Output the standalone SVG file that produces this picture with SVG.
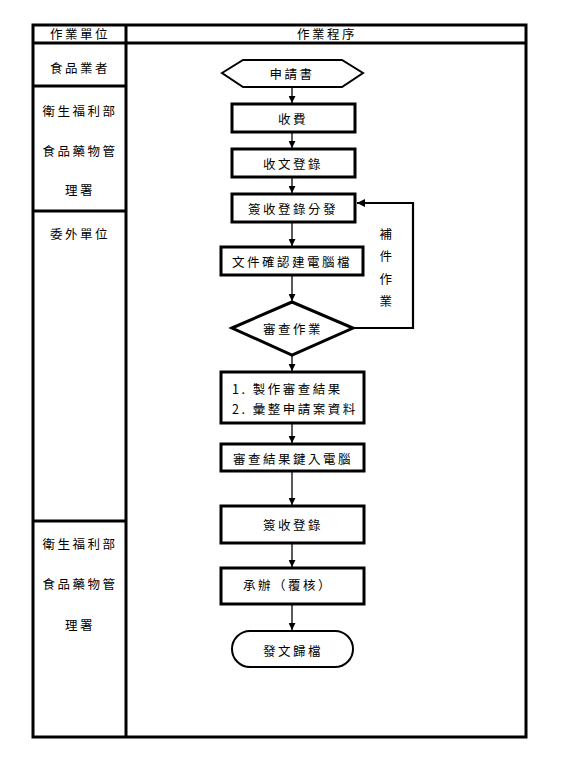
<svg xmlns="http://www.w3.org/2000/svg" width="563" height="765" viewBox="0 0 563 765">
<style>
text{font-family:"Noto Sans CJK TC","Noto Sans CJK SC",sans-serif;font-size:12.5px;fill:#000;letter-spacing:2.5px;text-anchor:middle;dominant-baseline:central}
.lane{fill:none;stroke:#000;stroke-width:3}
.box{fill:#fff;stroke:#000;stroke-width:3}
.thin{fill:#fff;stroke:#000;stroke-width:2}
.conn{fill:none;stroke:#000;stroke-width:1.3}
</style>
<defs>
<marker id="ah" viewBox="0 0 10 10" refX="10" refY="5" markerWidth="7" markerHeight="7" markerUnits="userSpaceOnUse" orient="auto"><path d="M0,0L10,5L0,10z" fill="#000"/></marker>
<marker id="ah2" viewBox="0 0 10 10" refX="10" refY="5" markerWidth="8" markerHeight="8" markerUnits="userSpaceOnUse" orient="auto"><path d="M0,0L10,5L0,10z" fill="#000"/></marker>
</defs>
<rect width="563" height="765" fill="#fff"/>
<g id="table">
<rect class="lane" x="33" y="25" width="493" height="712"/>
<line class="lane" x1="33" y1="43" x2="526" y2="43"/>
<line class="lane" x1="126" y1="25" x2="126" y2="737"/>
<line class="lane" x1="33" y1="86" x2="126" y2="86"/>
<line class="lane" x1="33" y1="211" x2="126" y2="211"/>
<line class="lane" x1="33" y1="521" x2="126" y2="521"/>
<text x="80" y="33">作業單位</text>
<text x="327" y="33">作業程序</text>
<text x="80" y="67">食品業者</text>
<text x="80" y="110">衛生福利部</text>
<text x="80" y="150">食品藥物管</text>
<text x="80" y="189">理署</text>
<text x="80" y="233">委外單位</text>
<text x="80" y="543">衛生福利部</text>
<text x="80" y="583">食品藥物管</text>
<text x="80" y="624">理署</text>
</g>
<g id="connectors">
<line class="conn" x1="292" y1="87" x2="292" y2="103" marker-end="url(#ah)"/>
<line class="conn" x1="292" y1="132" x2="292" y2="148" marker-end="url(#ah)"/>
<line class="conn" x1="292" y1="177" x2="292" y2="193" marker-end="url(#ah)"/>
<line class="conn" x1="292" y1="222" x2="292" y2="246" marker-end="url(#ah)"/>
<line class="conn" x1="292" y1="275" x2="292" y2="301" marker-end="url(#ah)"/>
<line class="conn" x1="292" y1="355" x2="292" y2="371" marker-end="url(#ah)"/>
<line class="conn" x1="292" y1="423" x2="292" y2="443" marker-end="url(#ah)"/>
<line class="conn" x1="292" y1="471" x2="292" y2="505" marker-end="url(#ah)"/>
<line class="conn" x1="292" y1="543" x2="292" y2="567" marker-end="url(#ah)"/>
<line class="conn" x1="292" y1="604" x2="292" y2="630" marker-end="url(#ah)"/>
<polyline fill="none" stroke="#000" stroke-width="2.2" points="353,328 413,328 413,203 357,203" marker-end="url(#ah2)"/>
<text x="387" y="233">補</text>
<text x="387" y="255">件</text>
<text x="387" y="278">作</text>
<text x="387" y="300">業</text>
</g>
<g id="n1"><polygon class="thin" points="222,73 243,60 342,60 363,73 342,87 243,87"/><text x="292" y="73">申請書</text></g>
<g id="n2"><rect class="box" x="232" y="104" width="123" height="28"/><text x="293" y="118">收費</text></g>
<g id="n3"><rect class="box" x="232" y="149" width="123" height="28"/><text x="293" y="163">收文登錄</text></g>
<g id="n4"><rect class="box" x="232" y="194" width="123" height="28"/><text x="293" y="208">簽收登錄分發</text></g>
<g id="n5"><rect class="box" x="221" y="247" width="142" height="28"/><text x="292" y="261">文件確認建電腦檔</text></g>
<g id="n6"><polygon class="box" points="232,328 292,302 353,328 292,355"/><text x="293" y="328">審查作業</text></g>
<g id="n7"><rect class="box" x="221" y="372" width="143" height="51"/><text x="232" y="388" style="text-anchor:start">1. 製作審查結果</text><text x="232" y="408" style="text-anchor:start">2. 彙整申請案資料</text></g>
<g id="n8"><rect class="box" x="221" y="444" width="143" height="27"/><text x="293" y="458">審查結果鍵入電腦</text></g>
<g id="n9"><rect class="box" x="221" y="506" width="143" height="37"/><text x="293" y="524">簽收登錄</text></g>
<g id="n10"><rect class="box" x="221" y="568" width="143" height="36"/><text x="288" y="584">承辦（覆核）</text></g>
<g id="n11"><rect class="thin" x="232" y="631" width="121" height="36" rx="18" ry="18"/><text x="293" y="650">發文歸檔</text></g>
</svg>
